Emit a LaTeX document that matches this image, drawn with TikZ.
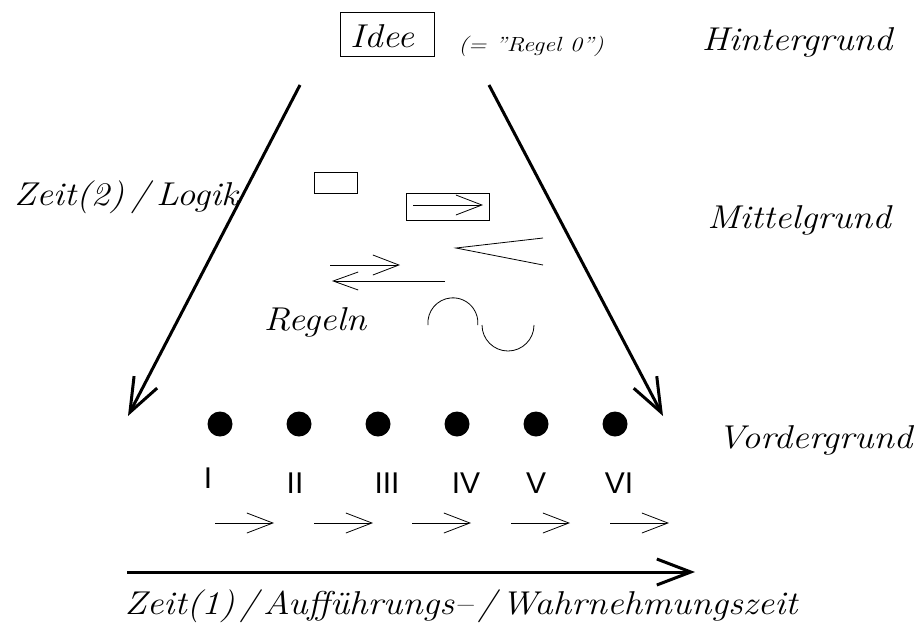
\documentclass[tikz,border=0pt]{standalone}
\usepackage{fontspec}
\usepackage{graphicx}
\newfontfamily\numfont{Liberation Sans}
\usetikzlibrary{arrows.meta}
% slightly widened italic lettering
\newcommand\widetext[2][1.12]{\scalebox{#1}[1]{#2}}
\begin{document}
\begin{tikzpicture}[x=1pt,y=-1pt,
  lbl/.style={inner sep=0pt,font=\fontsize{33}{36}\selectfont\itshape},
  small/.style={inner sep=0pt,font=\fontsize{20.5}{22}\selectfont\itshape},
  numeral/.style={inner sep=0pt,font=\fontsize{30}{32}\selectfont\numfont},
  bigarrow/.style={line width=3pt,-{Straight Barb[length=34pt,width=26pt,line width=3pt]}},
  thin/.style={line width=0.8pt},
  thinarrow/.style={line width=0.8pt,-{Straight Barb[length=26pt,width=20pt,line width=0.8pt]}},
  dot/.style={circle,fill=black,inner sep=0pt,minimum size=25pt}]
\useasboundingbox (0,0) rectangle (917,632);

% top: the idea and the layer names
\node[draw,thin,minimum width=94pt,minimum height=44pt,inner sep=0pt] (idee) at (387,34) {};
\node[lbl] (ideetext) at (382,36) {\widetext{Idee}};
\node[small] (regel0) at (531,46) {\widetext[1.2]{(= "Regel 0")}};
\node[lbl] (hinter) at (797,42) {\widetext{Hintergrund}};
\node[lbl] (mittel) at (799,220) {\widetext{Mittelgrund}};
\node[lbl] (vorder) at (815,440) {\widetext{Vordergrund}};
\node[lbl] (zeit2) at (126,197) {\widetext{Zeit(2)\kern6pt/\kern6pt Logik}};
\node[lbl] (regeln) at (315,322) {\widetext{Regeln}};

% the two slanted arrows
\coordinate (ls) at (300,85);
\coordinate (le) at (128,416);
\coordinate (rs) at (489,85);
\coordinate (re) at (663,416);
\draw[bigarrow] (ls) -- (le);
\draw[bigarrow] (rs) -- (re);

% rule symbols in the middle
\node[draw,thin,minimum width=43pt,minimum height=21pt,inner sep=0pt] (r1) at (335.5,182.5) {};
\node[draw,thin,minimum width=83pt,minimum height=27pt,inner sep=0pt] (r2) at (447.5,206.5) {};
\coordinate (r2a) at (413,205);
\coordinate (r2b) at (483,205);
\draw[thinarrow] (r2a) -- (r2b);
\coordinate (va) at (543,238);
\coordinate (vb) at (456,248);
\coordinate (vc) at (543,265);
\draw[thin] (va) -- (vb) -- (vc);
\coordinate (d1a) at (330,265);
\coordinate (d1b) at (400,265);
\draw[thinarrow] (d1a) -- (d1b);
\coordinate (d2a) at (445,281);
\coordinate (d2b) at (332,281);
\draw[thin,-{Straight Barb[length=25pt,width=18pt,line width=0.8pt]}] (d2a) -- (d2b);
% two half circles (y axis points down, so 270 is the top)
\coordinate (arc1) at (428,325);
\draw[thin] (arc1) arc[start angle=175,end angle=365,radius=25];
\coordinate (arc2) at (482,325);
\draw[thin] (arc2) arc[start angle=180,end angle=0,radius=26];

% the six moments
\foreach \x/\n in {220/1,299/2,378/3,457/4,536/5,615/6}
  \node[dot] (p\n) at (\x,424) {};
\node[numeral] (n1) at (208,478) {I};
\node[numeral] (n2) at (295,483) {II};
\node[numeral] (n3) at (387,483) {III};
\node[numeral] (n4) at (466,483) {IV};
\node[numeral] (n5) at (536,483) {V};
\node[numeral] (n6) at (619,483) {VI};

% small arrows between the moments
\foreach \x/\n in {215/1,314/2,412/3,511/4,610/5} {
  \coordinate (sa\n) at (\x,523);
  \coordinate (sb\n) at (\x+59,523);
  \draw[thinarrow] (sa\n) -- (sb\n);
}

% performance time axis
\coordinate (ta) at (127,572);
\coordinate (tb) at (695,572);
\draw[bigarrow] (ta) -- (tb);
\node[lbl] (zeit1) at (461,606) {\widetext{Zeit(1)\kern4.5pt/\kern4.5pt Aufführungs--\kern4.5pt/\kern4.5pt Wahrnehmungszeit}};
\end{tikzpicture}
\end{document}
